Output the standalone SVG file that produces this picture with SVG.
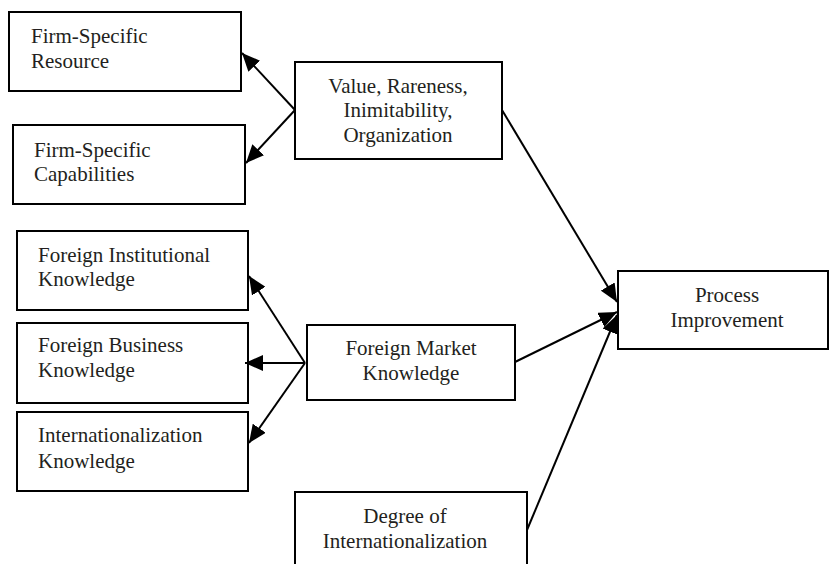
<svg xmlns="http://www.w3.org/2000/svg" width="830" height="564" viewBox="0 0 830 564">
<style>
.box{fill:#fff;stroke:#000;stroke-width:2}
text{font-family:"Liberation Serif","Times New Roman",serif;font-size:21px;fill:#231f20}
.c{text-anchor:middle}
.conn line{stroke:#000;stroke-width:2;marker-end:url(#ah)}
</style>
<defs>
<marker id="ah" markerUnits="userSpaceOnUse" markerWidth="19" markerHeight="16" refX="18" refY="8" orient="auto">
<path d="M0,0 L18,8 L0,16 Z" fill="#000"/>
</marker>
</defs>
<g id="n-resource"><rect class="box" x="9" y="12" width="232" height="79"/><text x="31" y="43">Firm-Specific</text><text x="31" y="68">Resource</text></g>
<g id="n-capabilities"><rect class="box" x="13" y="125" width="232" height="79"/><text x="34" y="157">Firm-Specific</text><text x="34" y="181">Capabilities</text></g>
<g id="n-vrio"><rect class="box" x="295" y="62" width="207" height="97"/><text class="c" x="398" y="93">Value, Rareness,</text><text class="c" x="398" y="117">Inimitability,</text><text class="c" x="398" y="142">Organization</text></g>
<g id="n-fik"><rect class="box" x="17" y="231" width="231" height="79"/><text x="38" y="262">Foreign Institutional</text><text x="38" y="286">Knowledge</text></g>
<g id="n-fbk"><rect class="box" x="17" y="323" width="231" height="80"/><text x="38" y="352">Foreign Business</text><text x="38" y="377">Knowledge</text></g>
<g id="n-ik"><rect class="box" x="17" y="412" width="231" height="79"/><text x="38" y="442">Internationalization</text><text x="38" y="468">Knowledge</text></g>
<g id="n-fmk"><rect class="box" x="307" y="325" width="208" height="75"/><text class="c" x="411" y="355">Foreign Market</text><text class="c" x="411" y="380">Knowledge</text></g>
<g id="n-pi"><rect class="box" x="618" y="271" width="210" height="78"/><text class="c" x="727" y="302">Process</text><text class="c" x="727" y="327">Improvement</text></g>
<g id="n-doi"><rect class="box" x="295" y="492" width="232" height="80"/><text class="c" x="405" y="523">Degree of</text><text class="c" x="405" y="548">Internationalization</text></g>
<g class="conn" id="connectors">
<line x1="295" y1="110" x2="242" y2="53"/>
<line x1="295" y1="110" x2="246" y2="163"/>
<line x1="305" y1="363" x2="249" y2="276"/>
<line x1="305" y1="363" x2="245" y2="363"/>
<line x1="305" y1="363" x2="249" y2="443"/>
<line x1="502" y1="110" x2="617" y2="302"/>
<line x1="515" y1="362" x2="617" y2="312"/>
<line x1="527" y1="530" x2="617" y2="315"/>
</g>
</svg>
